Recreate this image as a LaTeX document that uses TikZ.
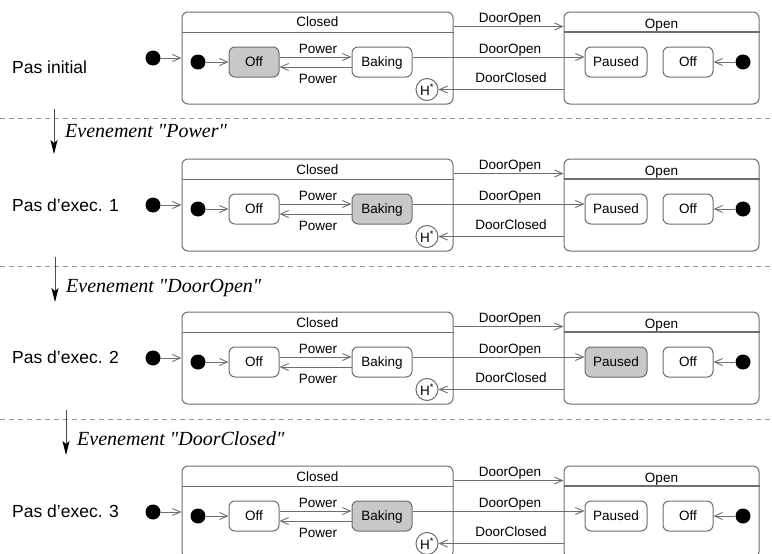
\documentclass[tikz,border=0pt]{standalone}
\usepackage{fontspec}
\setmainfont{Liberation Serif}
\setsansfont{Liberation Sans}
\usetikzlibrary{arrows.meta}
\definecolor{linegray}{RGB}{110,110,110}
\definecolor{hlgray}{RGB}{200,200,200}
\definecolor{dashgray}{RGB}{150,150,150}

\begin{document}
\begin{tikzpicture}
		[x=1pt, y=-1pt, font=\sffamily\fontsize{13.5}{15}\selectfont,
		every node/.style={inner sep=0pt},
		comp/.style={draw=linegray, line width=1pt, rounded corners=6pt, minimum width=#1, minimum height=92pt},
		state/.style={draw=linegray, line width=1pt, rounded corners=6pt, minimum height=30pt, text height=9.7pt, text depth=0pt},
		init/.style={circle, fill=black, minimum size=15pt},
		hist/.style={circle, draw=linegray, line width=1pt, minimum size=22pt},
		tr/.style={draw=linegray, line width=0.9pt, -{Straight Barb[length=8pt,width=7pt]}},
		lbl/.style={anchor=base},
		rowlbl/.style={anchor=base west, font=\sffamily\fontsize{17.5}{20}\selectfont},
		evt/.style={anchor=base west, font=\itshape\fontsize{20}{22}\selectfont},
		sep/.style={draw=dashgray, line width=0.9pt, dash pattern=on 5pt off 4pt},
		evarrow/.style={draw=black!70, line width=0.9pt, -{Stealth[length=14pt,width=7pt,inset=3pt,black]}}]
		\clip (0,0) rectangle (772,554);
		% one row per execution step
		\foreach \i/\t/\ly/\lab/\fa/\fb/\fc in {1/12/73/Pas initial/hlgray/white/white,
			2/159/211/Pas d’exec. 1/white/hlgray/white,
			3/312/363/Pas d’exec. 2/white/white/hlgray,
			4/466/517/Pas d’exec. 3/white/hlgray/white}
		{
			\node [rowlbl] (row\i) at (12,\ly) {\lab};
			\node [comp=271] (closed\i) at (317.5,\t+46) {};
			\node [lbl] (ctitle\i) at (317.5,\t+15) {Closed};
			\draw [draw=linegray, line width=1pt] ([yshift=-20.5pt]closed\i.north west) -- ([yshift=-20.5pt]closed\i.north east);
			\node [comp=195] (open\i) at (661.5,\t+46) {};
			\node [lbl] (otitle\i) at (661.5,\t+16) {Open};
			\draw [draw=linegray, line width=1.3pt] ([yshift=-20.5pt]open\i.north west) -- ([yshift=-20.5pt]open\i.north east);
			\node [init] (ini\i) at (153,\t+46) {};
			\node [init] (inc\i) at (198,\t+50) {};
			\node [state, minimum width=50pt, fill=\fa] (offc\i) at (254,\t+50) {Off};
			\node [state, minimum width=60pt, fill=\fb] (bak\i) at (382,\t+50) {Baking};
			\node [hist] (hist\i) at (427,\t+77.5) {H\textsuperscript{*}};
			\node [state, minimum width=62pt, fill=\fc] (pau\i) at (616,\t+50) {Paused};
			\node [state, minimum width=50pt] (offo\i) at (688,\t+50) {Off};
			\node [init] (ino\i) at (743,\t+50) {};
			\draw [tr] (ini\i) -- (ini\i -| closed\i.west);
			\draw [tr] (inc\i) -- (offc\i);
			\draw [tr] ([yshift=5pt]offc\i.east) -- ([yshift=5pt]bak\i.west);
			\draw [tr] ([yshift=-5pt]bak\i.west) -- ([yshift=-5pt]offc\i.east);
			\draw [tr] ([yshift=-15pt]closed\i.north east) -- ([yshift=-15pt]open\i.north west);
			\draw [tr] ([yshift=5pt]bak\i.east) -- ([yshift=5pt]pau\i.west);
			\draw [tr] (hist\i -| open\i.west) -- (hist\i);
			\draw [tr] (ino\i) -- (offo\i);
			\node [lbl] (pwa\i) at (318,\t+41) {Power};
			\node [lbl] (pwb\i) at (318,\t+71) {Power};
			\node [lbl] (doa\i) at (510,\t+10) {DoorOpen};
			\node [lbl] (dob\i) at (510,\t+41) {DoorOpen};
			\node [lbl] (dcl\i) at (511,\t+70) {DoorClosed};
		}
		% events between the steps
		\foreach \j/\y/\x/\ty/\ev in {1/118/54/137/Power, 2/266/55/292/DoorOpen, 3/419/66/445/DoorClosed}
		{
			\coordinate (sepl\j) at (0,\y);
			\coordinate (sepr\j) at (772,\y);
			\draw [sep] (sepl\j) -- (sepr\j);
			\coordinate (evs\j) at (\x,\y-9);
			\coordinate (eve\j) at (\x,\y+36);
			\draw [evarrow] (evs\j) -- (eve\j);
			\node [evt] (ev\j) at (\x+11,\ty) {Evenement \textquotedbl\ev\textquotedbl};
		}
	\end{tikzpicture}
\end{document}
